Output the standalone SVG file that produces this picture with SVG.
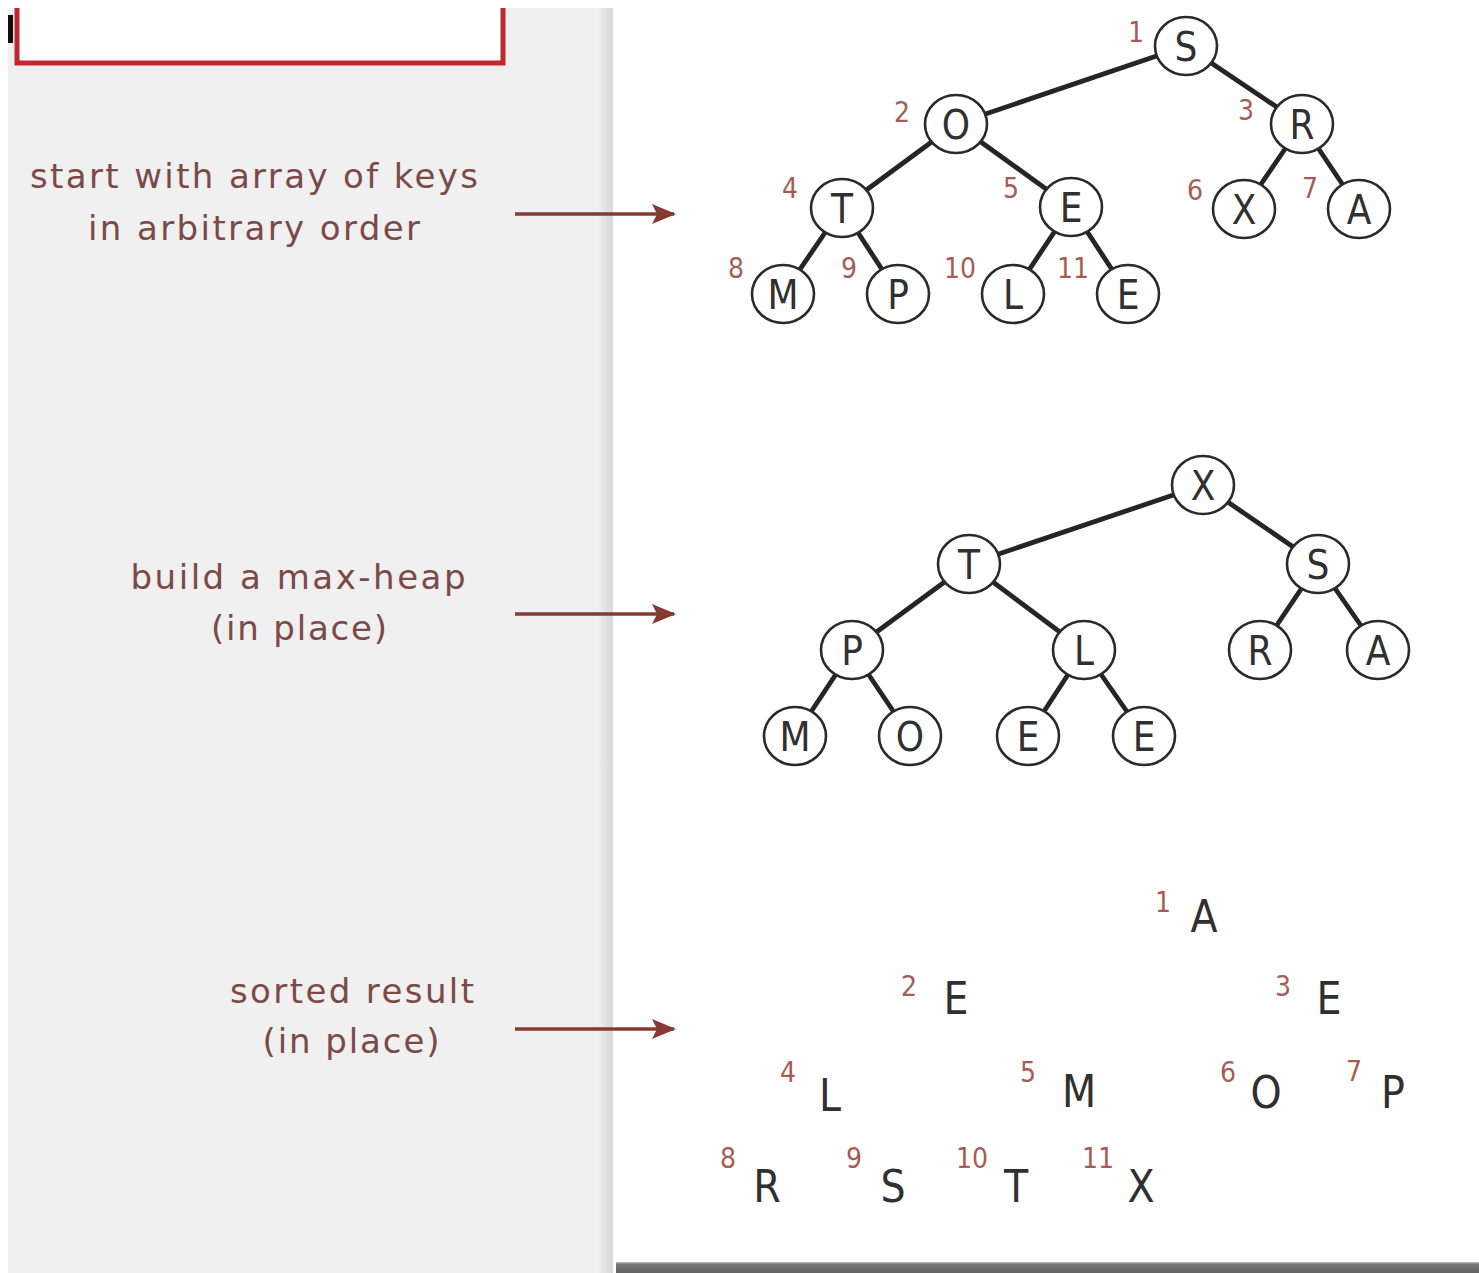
<svg xmlns="http://www.w3.org/2000/svg" width="1479" height="1273" viewBox="0 0 1479 1273">
<style>
.lbl{font-family:"DejaVu Sans","Liberation Sans",sans-serif;font-size:34px;fill:#7b4a46;text-anchor:middle}
.nd ellipse{fill:#fff;stroke:#2a2a2a;stroke-width:2.6}
.key{font-family:"DejaVu Sans Condensed","DejaVu Sans",sans-serif;font-stretch:condensed;font-size:40px;fill:#303030;text-anchor:middle}
.big{font-family:"DejaVu Sans Condensed","DejaVu Sans",sans-serif;font-stretch:condensed;font-size:44px;fill:#303030;text-anchor:middle}
.num{font-family:"DejaVu Sans Condensed","DejaVu Sans",sans-serif;font-stretch:condensed;font-size:28px;fill:#a65c54;text-anchor:middle}
.edge{stroke:#252525;stroke-width:4.8;stroke-linecap:round}
.arr{stroke:#853a32;stroke-width:3.5;fill:none}
</style>
<defs>
<linearGradient id="shade" x1="0" x2="1" y1="0" y2="0">
<stop offset="0" stop-color="#f0f0f0"/>
<stop offset="1" stop-color="#d6d6d6"/>
</linearGradient>
<linearGradient id="bshade" x1="0" x2="0" y1="0" y2="1">
<stop offset="0" stop-color="#bdbdbd"/>
<stop offset="0.2" stop-color="#777"/>
<stop offset="1" stop-color="#626262"/>
</linearGradient>
<marker id="ah" viewBox="0 0 24 20" refX="22" refY="10" markerWidth="24" markerHeight="20" markerUnits="userSpaceOnUse" orient="auto">
<path d="M0,0 L24,10 L0,20 L5,10 Z" fill="#853a32"/>
</marker>
</defs>

<rect x="0" y="0" width="1479" height="1273" fill="#fff"/>
<rect x="8" y="8" width="605" height="1265" fill="#f0f0f0"/>
<rect x="598" y="8" width="15" height="1265" fill="url(#shade)"/>
<rect x="613" y="0" width="866" height="1262" fill="#fff"/>
<rect x="616" y="1262" width="863" height="11" fill="url(#bshade)"/>

<g id="header-box">
<rect x="17" y="8" width="486" height="55" fill="#fff"/>
<path d="M17,8 V63 H503 V8" fill="none" stroke="#c1272d" stroke-width="5"/>
<rect x="8" y="15" width="5" height="28" fill="#1a0a0a"/>
</g>

<g id="labels">
<text class="lbl" x="254" y="188" textLength="448" lengthAdjust="spacing">start with array of keys</text>
<text class="lbl" x="254" y="240" textLength="332" lengthAdjust="spacing">in arbitrary order</text>
<text class="lbl" x="298" y="589" textLength="335" lengthAdjust="spacing">build a max-heap</text>
<text class="lbl" x="299" y="640" textLength="176" lengthAdjust="spacing">(in place)</text>
<text class="lbl" x="352" y="1003" textLength="244" lengthAdjust="spacing">sorted result</text>
<text class="lbl" x="351" y="1053" textLength="177" lengthAdjust="spacing">(in place)</text>
</g>

<g id="connectors">
<line class="arr" x1="515" y1="214" x2="674" y2="214" marker-end="url(#ah)"/>
<line class="arr" x1="515" y1="614" x2="674" y2="614" marker-end="url(#ah)"/>
<line class="arr" x1="515" y1="1029" x2="674" y2="1029" marker-end="url(#ah)"/>
<!-- tree 1 -->
<line class="edge" x1="1186" y1="46" x2="956" y2="124"/>
<line class="edge" x1="1186" y1="46" x2="1302" y2="124"/>
<line class="edge" x1="956" y1="124" x2="842" y2="208"/>
<line class="edge" x1="956" y1="124" x2="1071" y2="207"/>
<line class="edge" x1="1302" y1="124" x2="1244" y2="209"/>
<line class="edge" x1="1302" y1="124" x2="1359" y2="209"/>
<line class="edge" x1="842" y1="208" x2="783" y2="294"/>
<line class="edge" x1="842" y1="208" x2="898" y2="294"/>
<line class="edge" x1="1071" y1="207" x2="1013" y2="294"/>
<line class="edge" x1="1071" y1="207" x2="1128" y2="294"/>
<!-- tree 2 -->
<line class="edge" x1="1203" y1="485" x2="969" y2="564"/>
<line class="edge" x1="1203" y1="485" x2="1318" y2="564"/>
<line class="edge" x1="969" y1="564" x2="852" y2="650"/>
<line class="edge" x1="969" y1="564" x2="1084" y2="650"/>
<line class="edge" x1="1318" y1="564" x2="1260" y2="650"/>
<line class="edge" x1="1318" y1="564" x2="1378" y2="650"/>
<line class="edge" x1="852" y1="650" x2="795" y2="736"/>
<line class="edge" x1="852" y1="650" x2="910" y2="736"/>
<line class="edge" x1="1084" y1="650" x2="1028" y2="736"/>
<line class="edge" x1="1084" y1="650" x2="1144" y2="736"/>
</g>

<!-- tree 1 nodes -->
<g id="t1-n1" class="nd"><ellipse cx="1186" cy="46" rx="31" ry="29"/><text class="key" x="1186" y="61">S</text><text class="num" x="1136" y="42">1</text></g>
<g id="t1-n2" class="nd"><ellipse cx="956" cy="124" rx="31" ry="29"/><text class="key" x="956" y="139">O</text><text class="num" x="902" y="122">2</text></g>
<g id="t1-n3" class="nd"><ellipse cx="1302" cy="124" rx="31" ry="29"/><text class="key" x="1302" y="139">R</text><text class="num" x="1246" y="120">3</text></g>
<g id="t1-n4" class="nd"><ellipse cx="842" cy="208" rx="31" ry="29"/><text class="key" x="842" y="223">T</text><text class="num" x="790" y="198">4</text></g>
<g id="t1-n5" class="nd"><ellipse cx="1071" cy="207" rx="31" ry="29"/><text class="key" x="1071" y="222">E</text><text class="num" x="1011" y="198">5</text></g>
<g id="t1-n6" class="nd"><ellipse cx="1244" cy="209" rx="31" ry="29"/><text class="key" x="1244" y="224">X</text><text class="num" x="1195" y="200">6</text></g>
<g id="t1-n7" class="nd"><ellipse cx="1359" cy="209" rx="31" ry="29"/><text class="key" x="1359" y="224">A</text><text class="num" x="1310" y="198">7</text></g>
<g id="t1-n8" class="nd"><ellipse cx="783" cy="294" rx="31" ry="29"/><text class="key" x="783" y="309">M</text><text class="num" x="736" y="278">8</text></g>
<g id="t1-n9" class="nd"><ellipse cx="898" cy="294" rx="31" ry="29"/><text class="key" x="898" y="309">P</text><text class="num" x="849" y="278">9</text></g>
<g id="t1-n10" class="nd"><ellipse cx="1013" cy="294" rx="31" ry="29"/><text class="key" x="1013" y="309">L</text><text class="num" x="960" y="278">10</text></g>
<g id="t1-n11" class="nd"><ellipse cx="1128" cy="294" rx="31" ry="29"/><text class="key" x="1128" y="309">E</text><text class="num" x="1073" y="278">11</text></g>

<!-- tree 2 nodes -->
<g id="t2-n1" class="nd"><ellipse cx="1203" cy="485" rx="31" ry="29"/><text class="key" x="1203" y="500">X</text></g>
<g id="t2-n2" class="nd"><ellipse cx="969" cy="564" rx="31" ry="29"/><text class="key" x="969" y="579">T</text></g>
<g id="t2-n3" class="nd"><ellipse cx="1318" cy="564" rx="31" ry="29"/><text class="key" x="1318" y="579">S</text></g>
<g id="t2-n4" class="nd"><ellipse cx="852" cy="650" rx="31" ry="29"/><text class="key" x="852" y="665">P</text></g>
<g id="t2-n5" class="nd"><ellipse cx="1084" cy="650" rx="31" ry="29"/><text class="key" x="1084" y="665">L</text></g>
<g id="t2-n6" class="nd"><ellipse cx="1260" cy="650" rx="31" ry="29"/><text class="key" x="1260" y="665">R</text></g>
<g id="t2-n7" class="nd"><ellipse cx="1378" cy="650" rx="31" ry="29"/><text class="key" x="1378" y="665">A</text></g>
<g id="t2-n8" class="nd"><ellipse cx="795" cy="736" rx="31" ry="29"/><text class="key" x="795" y="751">M</text></g>
<g id="t2-n9" class="nd"><ellipse cx="910" cy="736" rx="31" ry="29"/><text class="key" x="910" y="751">O</text></g>
<g id="t2-n10" class="nd"><ellipse cx="1028" cy="736" rx="31" ry="29"/><text class="key" x="1028" y="751">E</text></g>
<g id="t2-n11" class="nd"><ellipse cx="1144" cy="736" rx="31" ry="29"/><text class="key" x="1144" y="751">E</text></g>

<!-- sorted result -->
<g id="t3-n1"><text class="big" x="1204" y="932">A</text><text class="num" x="1163" y="912">1</text></g>
<g id="t3-n2"><text class="big" x="956" y="1014">E</text><text class="num" x="909" y="996">2</text></g>
<g id="t3-n3"><text class="big" x="1329" y="1014">E</text><text class="num" x="1283" y="996">3</text></g>
<g id="t3-n4"><text class="big" x="830" y="1111">L</text><text class="num" x="788" y="1082">4</text></g>
<g id="t3-n5"><text class="big" x="1079" y="1107">M</text><text class="num" x="1028" y="1082">5</text></g>
<g id="t3-n6"><text class="big" x="1266" y="1108">O</text><text class="num" x="1228" y="1082">6</text></g>
<g id="t3-n7"><text class="big" x="1393" y="1108">P</text><text class="num" x="1354" y="1081">7</text></g>
<g id="t3-n8"><text class="big" x="767" y="1202">R</text><text class="num" x="728" y="1168">8</text></g>
<g id="t3-n9"><text class="big" x="893" y="1202">S</text><text class="num" x="854" y="1168">9</text></g>
<g id="t3-n10"><text class="big" x="1016" y="1202">T</text><text class="num" x="972" y="1168">10</text></g>
<g id="t3-n11"><text class="big" x="1141" y="1202">X</text><text class="num" x="1098" y="1168">11</text></g>
</svg>
